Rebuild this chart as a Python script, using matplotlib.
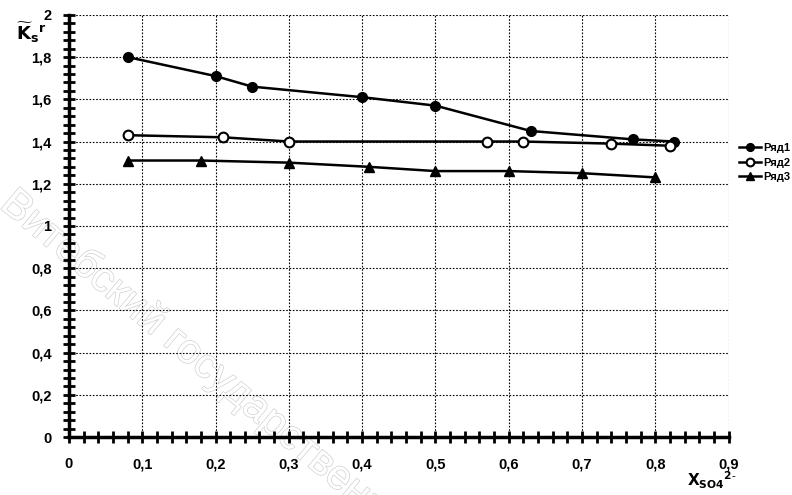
import matplotlib
matplotlib.use('Agg')
import matplotlib.pyplot as plt
import matplotlib.patheffects as pe
from matplotlib.ticker import MultipleLocator, FuncFormatter

# series data: mole fraction of SO4(2-) vs K_s
x1 = [0.08, 0.20, 0.25, 0.40, 0.50, 0.63, 0.77, 0.825]
y1 = [1.80, 1.71, 1.66, 1.61, 1.57, 1.45, 1.41, 1.40]

x2 = [0.08, 0.21, 0.30, 0.57, 0.62, 0.74, 0.82]
y2 = [1.43, 1.42, 1.40, 1.40, 1.40, 1.39, 1.38]

x3 = [0.08, 0.18, 0.30, 0.41, 0.50, 0.60, 0.70, 0.80]
y3 = [1.31, 1.31, 1.30, 1.28, 1.26, 1.26, 1.25, 1.23]

labels = ['Ряд1', 'Ряд2', 'Ряд3']

plt.rcParams['font.family'] = ['Liberation Sans', 'DejaVu Sans']

fig = plt.figure(figsize=(7.92, 4.95), dpi=100)
ax = fig.add_axes([0.087, 0.117, 0.833, 0.853])

# faint outlined watermark under the axes
fig.text(0.271, 0.246, 'Витебский государственный', rotation=-40,
         fontsize=30, color='white', ha='center', va='center', zorder=-1,
         path_effects=[pe.withStroke(linewidth=0.9, foreground='#cccccc')])

ax.plot(x1, y1, '-o', color='black', lw=1.8, ms=7, label=labels[0], zorder=3)
ax.plot(x2, y2, '-o', color='black', lw=1.8, ms=7, mfc='white', mew=1.5,
        label=labels[1], zorder=3)
ax.plot(x3, y3, '-^', color='black', lw=1.8, ms=7, label=labels[2], zorder=3)

ax.set_xlim(0, 0.9)
ax.set_ylim(0, 2)
ax.patch.set_alpha(0)

ax.xaxis.set_major_locator(MultipleLocator(0.1))
ax.xaxis.set_minor_locator(MultipleLocator(0.02))
ax.yaxis.set_major_locator(MultipleLocator(0.2))
ax.yaxis.set_minor_locator(MultipleLocator(0.04))

fmt = FuncFormatter(lambda v, p: ('%g' % round(v, 2)).replace('.', ','))
ax.xaxis.set_major_formatter(fmt)
ax.yaxis.set_major_formatter(fmt)

for s in ['top', 'right']:
    ax.spines[s].set_visible(False)
for s in ['left', 'bottom']:
    ax.spines[s].set_linewidth(2.5)

ax.tick_params(which='both', direction='inout', length=9, width=2, colors='black')
ax.tick_params(axis='x', which='major', pad=10, labelsize=10.5)
ax.tick_params(axis='y', which='major', pad=8, labelsize=10.5)
for t in ax.get_xticklabels() + ax.get_yticklabels():
    t.set_fontweight('bold')

ax.grid(True, which='major', linestyle=(0, (1.5, 1.5)), color='black', lw=0.8)

ax.text(-0.08, 0.985, r'$\mathbf{\widetilde{K}_s}^{\mathbf{r}}$', transform=ax.transAxes,
        fontsize=13, ha='left', va='top')
ax.text(0.975, -0.078, r'$\mathbf{X_{SO4}}^{\mathbf{2\text{-}}}$', transform=ax.transAxes,
        fontsize=11, ha='center', va='top')

leg = ax.legend(loc='center left', bbox_to_anchor=(1.0, 0.65), frameon=False,
                fontsize=8, handlelength=2.0, labelspacing=0.4, handletextpad=0.2,
                markerscale=0.8)
for t in leg.get_texts():
    t.set_fontweight('bold')

fig.savefig('out.png', dpi=100)
